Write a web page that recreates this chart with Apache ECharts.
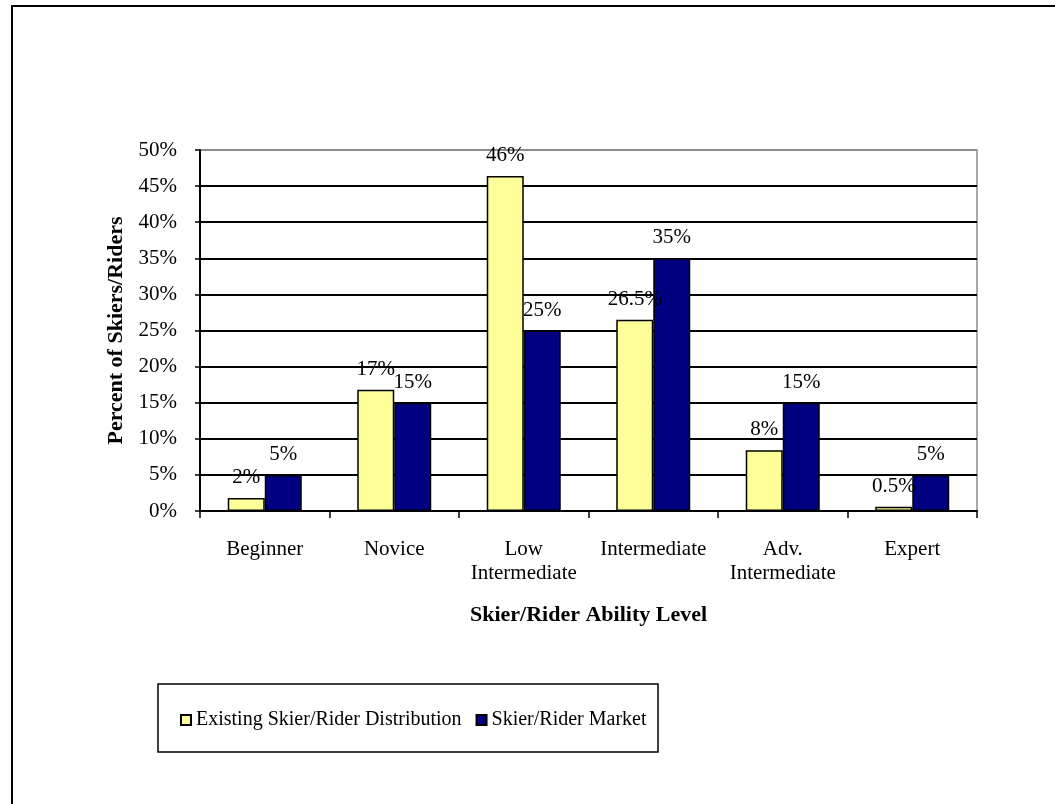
<!DOCTYPE html>
<html>
<head>
<meta charset="utf-8">
<script src="https://cdn.jsdelivr.net/npm/echarts@6/dist/echarts.min.js"></script>
<style>
html,body{margin:0;padding:0;background:#fff;}
#chart{width:1055px;height:804px;}
</style>
</head>
<body>
<div id="chart"></div>
<script>
const categories = ["Beginner", "Novice", "Low\nIntermediate", "Intermediate", "Adv.\nIntermediate", "Expert"];
const existingValues = [1.8, 16.8, 46.4, 26.5, 8.4, 0.6];
const existingLabels = ["2%", "17%", "46%", "26.5%", "8%", "0.5%"];
const marketValues = [5, 15, 25, 35, 15, 5];
const marketLabels = ["5%", "15%", "25%", "35%", "15%", "5%"];
const yTicks = [0, 5, 10, 15, 20, 25, 30, 35, 40, 45, 50];

const FONT = "'Liberation Serif', 'Times New Roman', serif";
const chart = echarts.init(document.getElementById('chart'));
const splitColors = yTicks.map((v, i) => i === yTicks.length - 1 ? '#8c8c8c' : '#000');

chart.setOption({
  animation: false,
  backgroundColor: '#fff',
  textStyle: { fontFamily: FONT, color: '#000' },
  grid: {
    left: 200, right: 78, top: 150, bottom: 293,
    show: true, borderColor: '#8c8c8c', borderWidth: 1.5, backgroundColor: 'transparent'
  },
  graphic: [
    { type: 'rect', shape: { x: 12, y: 6, width: 1100, height: 900 }, style: { fill: 'none', stroke: '#000', lineWidth: 2 }, silent: true },
    { type: 'rect', shape: { x: 158, y: 684, width: 500, height: 68 }, style: { fill: 'none', stroke: '#000', lineWidth: 1.5 }, silent: true }
  ],
  legend: {
    left: 180, top: 710, padding: 0,
    itemWidth: 10, itemHeight: 10, itemGap: 14,
    icon: 'rect',
    textStyle: { fontFamily: FONT, fontSize: 20, color: '#000' },
    data: ['Existing Skier/Rider Distribution', 'Skier/Rider Market']
  },
  xAxis: {
    type: 'category',
    data: categories,
    name: 'Skier/Rider Ability Level',
    nameLocation: 'middle',
    nameGap: 93,
    nameTextStyle: { fontFamily: FONT, fontSize: 22, fontWeight: 'bold', color: '#000' },
    axisLine: { show: true, lineStyle: { color: '#000', width: 2 } },
    axisTick: { show: true, interval: 0, length: 7, lineStyle: { color: '#000', width: 1.5 } },
    axisLabel: { interval: 0, margin: 26, fontFamily: FONT, fontSize: 21, color: '#000', lineHeight: 24 },
    splitLine: { show: false }
  },
  yAxis: {
    type: 'value',
    min: 0, max: 50, interval: 5,
    name: 'Percent of Skiers/Riders',
    nameLocation: 'middle',
    nameGap: 70,
    nameTextStyle: { fontFamily: FONT, fontSize: 22, fontWeight: 'bold', color: '#000' },
    axisLine: { show: true, lineStyle: { color: '#000', width: 2 } },
    axisTick: { show: true, length: 5, lineStyle: { color: '#000', width: 1.5 } },
    axisLabel: { margin: 23, fontFamily: FONT, fontSize: 21, color: '#000', formatter: '{value}%' },
    splitLine: { show: true, lineStyle: { color: splitColors, width: 2 } }
  },
  series: [
    {
      name: 'Existing Skier/Rider Distribution',
      type: 'bar',
      data: existingValues,
      barWidth: 37,
      barGap: '0%',
      itemStyle: { color: '#ffff99', borderColor: '#000', borderWidth: 1.5 },
      label: {
        show: true, position: 'top', distance: 10,
        fontFamily: FONT, fontSize: 21, color: '#000',
        formatter: p => existingLabels[p.dataIndex]
      }
    },
    {
      name: 'Skier/Rider Market',
      type: 'bar',
      data: marketValues,
      barWidth: 37,
      barGap: '0%',
      itemStyle: { color: '#000080', borderColor: '#000', borderWidth: 1.5 },
      label: {
        show: true, position: 'top', distance: 10,
        fontFamily: FONT, fontSize: 21, color: '#000',
        formatter: p => marketLabels[p.dataIndex]
      }
    }
  ]
});
</script>
</body>
</html>
